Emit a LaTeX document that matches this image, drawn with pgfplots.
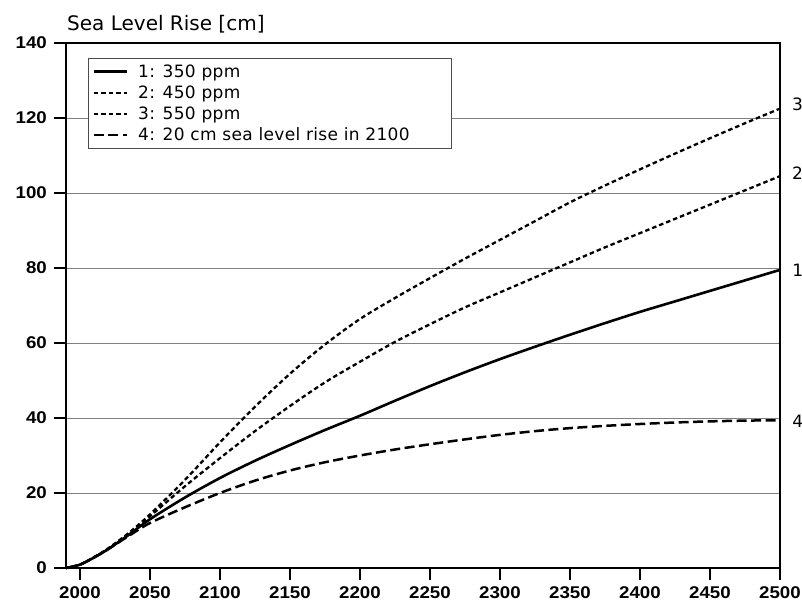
\documentclass[border=0pt]{standalone}
\usepackage{fontspec}
\setmainfont{Liberation Sans}
\newfontfamily\dejavu{DejaVu Sans}
\newfontfamily\dejavuwide[LetterSpace=2]{DejaVu Sans}
\usepackage{pgfplots}
\pgfplotsset{compat=1.18}

% sea level rise curves
\pgfplotstableread{
year  c350  c450  c550  c20
1990  0     0     0     0
2000  0.9   0.9   0.9   0.9
2010  2.8   2.8   2.9   2.8
2020  5.0   5.1   5.2   5.0
2035  8.9   9.2   9.4   8.6
2050  13.0  13.8  14.3  12.0
2075  18.8  21.8  23.5  16.2
2100  24.0  29.3  33.5  20.0
2125  28.6  36.5  43.0  23.3
2150  32.8  43.2  51.8  26.0
2175  36.8  49.5  59.6  28.2
2200  40.6  55.0  66.4  30.0
2225  44.6  60.3  72.0  31.6
2250  48.5  65.0  77.3  33.0
2275  52.2  69.5  82.5  34.3
2300  55.7  73.5  87.5  35.5
2325  59.0  77.5  92.5  36.5
2350  62.2  81.5  97.5  37.3
2375  65.3  85.5  102.0 37.9
2400  68.3  89.3  106.3 38.4
2425  71.1  93.1  110.5 38.8
2450  73.9  96.9  114.6 39.1
2475  76.7  100.7 118.6 39.3
2500  79.5  104.5 122.5 39.4
}\sealevel

\begin{document}
\begin{tikzpicture}
\begin{axis}[
    name=ax,
    scale only axis,
    width=714bp, height=525bp,
    xmin=1990, xmax=2500,
    ymin=0, ymax=140,
    xtick={2000,2050,...,2500},
    ytick={0,20,...,140},
    xtick pos=bottom, ytick pos=left,
    tick align=outside,
    major tick length=12bp,
    tick style={black, line width=1.6bp},
    axis line style={line width=1.6bp},
    ymajorgrids,
    grid style={gray, line width=0.8bp},
    /pgf/number format/assume math mode=true,
    /pgf/number format/set thousands separator={},
    tick label style={font=\bfseries\fontsize{17bp}{20bp}\selectfont, xscale=1.1},
    yticklabel style={xshift=-3bp},
    xticklabel style={yshift=-3bp},
    legend style={
        at={(rel axis cs:0.031,0.971)}, anchor=north west,
        draw=gray!60!black, line width=0.8bp, fill=white,
        font=\dejavuwide\fontsize{17bp}{20bp}\selectfont,
        row sep=3bp, inner xsep=4bp, inner ysep=4bp,
    },
    legend cell align=left,
    legend image code/.code={\draw[#1] (0bp,0bp) -- (33bp,0bp); \path (41bp,0bp);},
    clip=false,
]
\addplot[black, line width=2.6bp, smooth] table[x=year, y=c350] {\sealevel}
    node[pos=1, anchor=west, inner sep=0pt, xshift=11bp, font=\dejavu\fontsize{17bp}{20bp}\selectfont] {1};
\addlegendentry{1: 350 ppm}
\addplot[black, line width=2.3bp, dash pattern=on 4.5bp off 3bp, smooth] table[x=year, y=c450] {\sealevel}
    node[pos=1, anchor=west, inner sep=0pt, xshift=11bp, yshift=3bp, font=\dejavu\fontsize{17bp}{20bp}\selectfont] {2};
\addlegendentry{2: 450 ppm}
\addplot[black, line width=2.3bp, dash pattern=on 4.5bp off 3bp, smooth] table[x=year, y=c550] {\sealevel}
    node[pos=1, anchor=west, inner sep=0pt, xshift=11bp, yshift=4bp, font=\dejavu\fontsize{17bp}{20bp}\selectfont] {3};
\addlegendentry{3: 550 ppm}
\addplot[black, line width=2.5bp, dash pattern=on 10bp off 4.5bp, smooth] table[x=year, y=c20] {\sealevel}
    node[pos=1, anchor=west, inner sep=0pt, xshift=11bp, yshift=-1bp, font=\dejavu\fontsize{17bp}{20bp}\selectfont] {4};
\addlegendentry{4: 20 cm sea level rise in 2100\rule{36bp}{0pt}}
\node[anchor=base west, inner sep=0pt, xshift=1bp, yshift=12bp,
      font=\dejavu\fontsize{20bp}{24bp}\selectfont] at (rel axis cs:0,1) {Sea Level Rise [cm]};
\end{axis}
\pgfresetboundingbox
\path[use as bounding box] ([xshift=-66bp,yshift=-39bp]ax.south west) rectangle ([xshift=22bp,yshift=43bp]ax.north east);
\end{tikzpicture}
\end{document}
